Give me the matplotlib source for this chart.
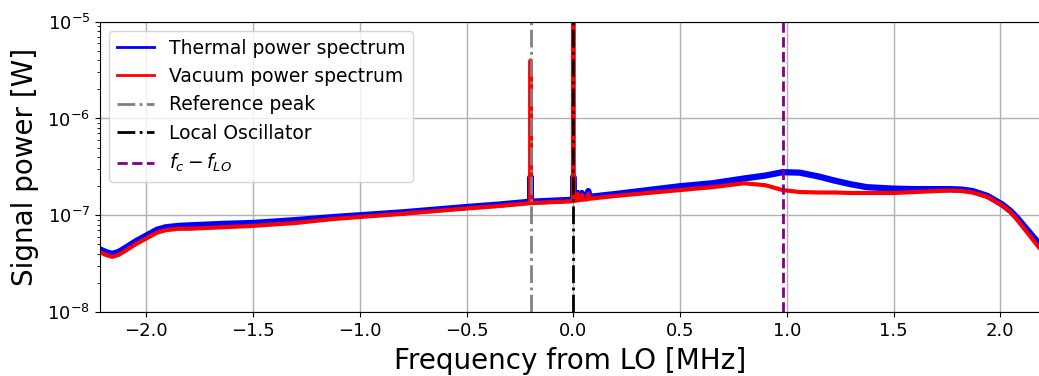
import numpy as np
import matplotlib
matplotlib.use("Agg")
from matplotlib import pyplot as plt
from matplotlib.lines import Line2D

# frequency from LO [MHz] and log10 of the power [W]
freq_th = [-2.22, -2.19, -2.16, -2.13, -2.10, -2.05, -2.00, -1.95, -1.91, -1.85, -1.80,
           -1.65, -1.50, -1.30, -1.13, -0.80, -0.50, -0.35, -0.2008, -0.200, -0.1992,
           -0.10, -0.0008, 0.000, 0.0008, 0.015, 0.020, 0.025, 0.035, 0.040, 0.045,
           0.065, 0.070, 0.075, 0.20, 0.35, 0.50, 0.65, 0.80, 0.90, 0.98, 1.06,
           1.15, 1.22, 1.30, 1.375, 1.50, 1.60, 1.70, 1.765, 1.82, 1.87, 1.94,
           2.01, 2.05, 2.08, 2.13, 2.18]
log_th = [-7.35, -7.38, -7.40, -7.38, -7.34, -7.27, -7.21, -7.15, -7.125, -7.11, -7.105,
          -7.09, -7.08, -7.05, -7.02, -6.97, -6.915, -6.89, -6.86, -6.60, -6.86,
          -6.85, -6.84, -6.60, -6.83, -6.83, -6.77, -6.83, -6.82, -6.77, -6.82,
          -6.81, -6.75, -6.81, -6.78, -6.74, -6.70, -6.67, -6.62, -6.59, -6.555, -6.56,
          -6.60, -6.64, -6.68, -6.71, -6.725, -6.73, -6.73, -6.73, -6.735, -6.75, -6.80,
          -6.89, -6.96, -7.03, -7.16, -7.29]

freq_vac = [-2.22, -2.19, -2.16, -2.13, -2.10, -2.05, -2.00, -1.95, -1.91, -1.85, -1.80,
            -1.65, -1.50, -1.30, -1.13, -0.80, -0.50, -0.35, -0.2008, -0.200, -0.1992,
            -0.10, -0.0008, 0.000, 0.0008, 0.015, 0.020, 0.025, 0.035, 0.040, 0.045,
            0.065, 0.070, 0.075, 0.20, 0.35, 0.50, 0.65, 0.80, 0.90, 0.98, 1.06,
            1.15, 1.22, 1.30, 1.375, 1.50, 1.60, 1.70, 1.765, 1.82, 1.87, 1.94,
            2.01, 2.05, 2.08, 2.13, 2.18]
log_vac = [-7.38, -7.41, -7.43, -7.41, -7.37, -7.30, -7.24, -7.18, -7.155, -7.14, -7.14,
           -7.125, -7.11, -7.08, -7.04, -6.985, -6.93, -6.905, -6.875, -5.40, -6.875,
           -6.865, -6.855, -4.70, -6.85, -6.85, -6.78, -6.845, -6.84, -6.79, -6.84,
           -6.835, -6.78, -6.83, -6.80, -6.77, -6.74, -6.71, -6.67, -6.69, -6.74, -6.76,
           -6.765, -6.765, -6.77, -6.77, -6.77, -6.76, -6.75, -6.745, -6.75, -6.765, -6.81,
           -6.90, -6.97, -7.05, -7.19, -7.33]

f_ref = -0.2
f_lo = 0.0
f_c = 0.982

fig = plt.figure(figsize=(10.39, 3.76), dpi=100)
ax = fig.add_axes([100/1039, 1 - 312/376, 1.001 - 100/1039, (312 - 21.7)/376])

ax.plot(freq_th, 10**np.array(log_th), color='blue', lw=4.5)
ax.plot(freq_vac, 10**np.array(log_vac), color='red', lw=3)
ax.axvline(f_ref, color='gray', ls='-.', lw=2)
ax.axvline(f_lo, color='black', ls='-.', lw=2)
ax.axvline(f_c, color='purple', ls='--', lw=2)

ax.set_yscale('log')
ax.set_ylim(1e-8, 1e-5)
ax.set_xlim(-2.217, 2.186)
ax.grid(True, which='major', color='#b0b0b0', lw=1)
ax.tick_params(labelsize=13)
ax.set_xlabel('Frequency from LO [MHz]', fontsize=20, labelpad=5)
ax.set_ylabel('Signal power [W]', fontsize=20, labelpad=6)

handles = [Line2D([], [], color='blue', lw=2),
           Line2D([], [], color='red', lw=2),
           Line2D([], [], color='gray', ls='-.', lw=2),
           Line2D([], [], color='black', ls='-.', lw=2),
           Line2D([], [], color='purple', ls='--', lw=2)]
labels = ['Thermal power spectrum', 'Vacuum power spectrum', 'Reference peak',
          'Local Oscillator', r'$f_c - f_{LO}$']
ax.legend(handles, labels, loc='upper left', fontsize=13.5)

fig.savefig('out.png', dpi=100)
